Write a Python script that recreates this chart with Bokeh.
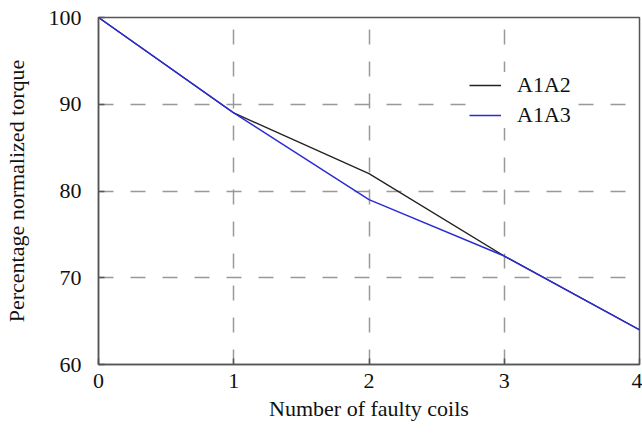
from bokeh.plotting import figure
from bokeh.models import Legend, LegendItem, FixedTicker, Range1d
from bokeh.embed import file_html
from bokeh.resources import INLINE

faulty_coils = [0, 1, 2, 3, 4]
a1a2 = [100, 89, 82, 72.5, 64]
a1a3 = [100, 89, 79, 72.5, 64]
x_ticks = [0, 1, 2, 3, 4]
y_ticks = [60, 70, 80, 90, 100]

FONT = "'Liberation Serif', 'Times New Roman', serif"

p = figure(width=642, height=434, output_backend="svg", toolbar_location=None,
           x_range=Range1d(0, 4), y_range=Range1d(60, 100),
           min_border_left=97, min_border_right=3, min_border_top=17, min_border_bottom=70)

p.outline_line_color = "#555555"
p.outline_line_width = 1.5

xa = p.below[0]
ya = p.left[0]
for ax in (xa, ya):
    ax.axis_line_color = "#555555"
    ax.axis_line_width = 1.5
    ax.major_tick_line_color = "#555555"
    ax.major_tick_line_width = 1.5
    ax.major_tick_in = 6
    ax.major_tick_out = 0
    ax.minor_tick_line_color = None
    ax.major_label_text_font = FONT
    ax.major_label_text_font_size = "22px"
    ax.major_label_text_color = "#111111"
    ax.axis_label_text_font = FONT
    ax.axis_label_text_font_size = "22px"
    ax.axis_label_text_font_style = "normal"
    ax.axis_label_text_color = "#111111"

xa.ticker = FixedTicker(ticks=x_ticks)
ya.ticker = FixedTicker(ticks=y_ticks)
xa.axis_label = "Number of faulty coils"
ya.axis_label = "Percentage normalized torque"
xa.major_label_standoff = 9
ya.major_label_standoff = 17
xa.axis_label_standoff = 5
ya.axis_label_standoff = 17

for g in (p.xgrid[0], p.ygrid[0]):
    g.grid_line_color = "#999999"
    g.grid_line_width = 1.5
    g.grid_line_dash = "15 17"

r1 = p.line(faulty_coils, a1a2, line_color="#222222", line_width=1.3)
r2 = p.line(faulty_coils, a1a3, line_color="#2b2bd6", line_width=1.5)

legend = Legend(items=[LegendItem(label="A1A2", renderers=[r1]),
                       LegendItem(label="A1A3", renderers=[r2])],
                location=(371, 236), border_line_color=None,
                background_fill_color="white", background_fill_alpha=1.0,
                label_text_font=FONT, label_text_font_size="22px",
                label_text_color="#111111",
                glyph_width=32, label_standoff=16, spacing=4, padding=8)
p.add_layout(legend, "center")

open("out.html", "w").write(file_html(p, INLINE))
